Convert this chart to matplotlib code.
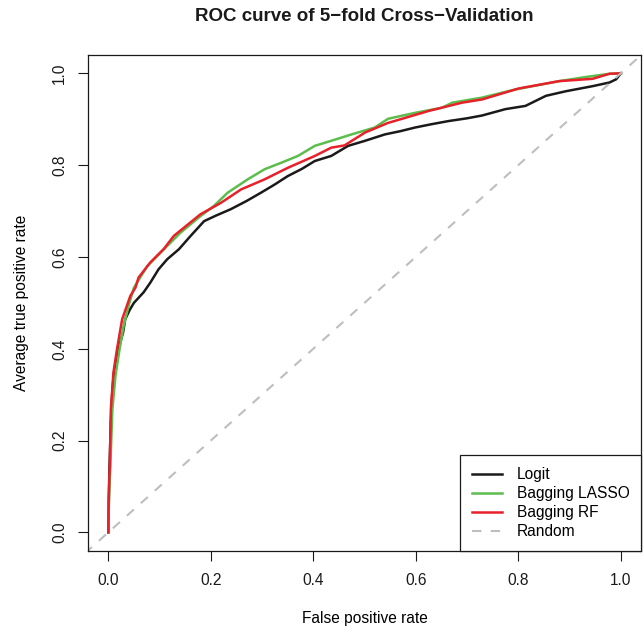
import matplotlib
matplotlib.use("Agg")
import matplotlib.pyplot as plt

plt.rcParams['font.family'] = ['Liberation Sans', 'DejaVu Sans']

# ROC curves (false positive rate, average true positive rate)
logit_fpr = [0.0, 0.002, 0.005, 0.008, 0.012, 0.016, 0.020, 0.029, 0.033, 0.042, 0.050,
             0.069, 0.082, 0.098, 0.115, 0.138, 0.160, 0.187, 0.210, 0.239, 0.270,
             0.298, 0.325, 0.350, 0.378, 0.403, 0.435, 0.468, 0.501, 0.540, 0.570,
             0.599, 0.630, 0.664, 0.700, 0.729, 0.775, 0.814, 0.854, 0.893, 0.945,
             0.978, 0.991, 1.0]
logit_tpr = [0.0, 0.13, 0.24, 0.31, 0.355, 0.38, 0.40, 0.436, 0.464, 0.485, 0.50,
             0.523, 0.544, 0.573, 0.595, 0.617, 0.645, 0.678, 0.690, 0.704, 0.722,
             0.740, 0.758, 0.776, 0.792, 0.809, 0.820, 0.842, 0.853, 0.867, 0.874,
             0.882, 0.889, 0.896, 0.902, 0.908, 0.922, 0.929, 0.951, 0.961, 0.972,
             0.980, 0.987, 1.0]

lasso_fpr = [0.0, 0.002, 0.004, 0.008, 0.014, 0.022, 0.030, 0.040, 0.050, 0.076,
             0.115, 0.141, 0.180, 0.206, 0.233, 0.272, 0.305, 0.337, 0.370, 0.403,
             0.435, 0.475, 0.520, 0.546, 0.599, 0.651, 0.671, 0.729, 0.795, 0.880,
             0.932, 0.978, 1.0]
lasso_tpr = [0.0, 0.10, 0.144, 0.268, 0.341, 0.399, 0.450, 0.495, 0.533, 0.580,
             0.624, 0.653, 0.689, 0.711, 0.740, 0.769, 0.791, 0.805, 0.820, 0.842,
             0.853, 0.867, 0.882, 0.901, 0.914, 0.925, 0.936, 0.947, 0.965, 0.983,
             0.992, 0.999, 1.0]

rf_fpr = [0.0, 0.001, 0.003, 0.005, 0.010, 0.017, 0.027, 0.043, 0.053, 0.059, 0.082,
          0.108, 0.128, 0.180, 0.220, 0.259, 0.305, 0.350, 0.403, 0.435, 0.461,
          0.501, 0.546, 0.625, 0.690, 0.729, 0.801, 0.880, 0.945, 0.978, 1.0]
rf_tpr = [0.0, 0.08, 0.144, 0.268, 0.348, 0.399, 0.464, 0.515, 0.533, 0.555, 0.588,
          0.617, 0.646, 0.693, 0.718, 0.747, 0.769, 0.794, 0.820, 0.838, 0.843,
          0.871, 0.892, 0.918, 0.936, 0.943, 0.967, 0.983, 0.988, 0.999, 1.0]

ticks = [0.0, 0.2, 0.4, 0.6, 0.8, 1.0]
tick_labels = ["0.0", "0.2", "0.4", "0.6", "0.8", "1.0"]

FS = 11.2

fig = plt.figure(figsize=(6.44, 6.28), dpi=100)
ax = fig.add_axes([0.1363, 0.123, 0.8595, 0.7895])

ax.plot(logit_fpr, logit_tpr, color='#1a1a1a', lw=1.8, label='Logit')
ax.plot(lasso_fpr, lasso_tpr, color='#5cbd4c', lw=1.8, label='Bagging LASSO')
ax.plot(rf_fpr, rf_tpr, color='#e8202a', lw=1.8, label='Bagging RF')
ax.plot([-0.1, 1.1], [-0.1, 1.1], color='#bebebe', lw=1.5,
        linestyle=(0, (4.5, 4.5)), label='Random')

ax.set_xlim(-0.04, 1.04)
ax.set_ylim(-0.04, 1.04)
ax.set_xticks(ticks)
ax.set_xticklabels(tick_labels)
ax.set_yticks(ticks)
ax.set_yticklabels(tick_labels, rotation=90, va='center')
ax.tick_params(direction='out', length=7.2, width=0.8, labelsize=FS,
               colors='#1a1a1a')
ax.tick_params(axis='x', pad=8.5)
ax.tick_params(axis='y', pad=7.5)
for s in ax.spines.values():
    s.set_linewidth(0.9)
    s.set_color('#1a1a1a')

ax.set_xlabel('False positive rate', fontsize=FS, labelpad=17)
ax.set_ylabel('Average true positive rate', fontsize=FS, labelpad=17)
fig.text(0.5663, 0.973, 'ROC curve of 5\u2212fold Cross\u2212Validation',
         ha='center', va='center', fontsize=13.5, fontweight='bold',
         color='#1a1a1a')

leg = ax.legend(loc='lower right', borderaxespad=0, fancybox=False,
                framealpha=1, edgecolor='#1a1a1a', fontsize=FS,
                handlelength=1.95, handletextpad=0.95, labelspacing=0.26,
                borderpad=0.75)
leg.get_frame().set_linewidth(0.9)

fig.savefig('out.png', dpi=100)
